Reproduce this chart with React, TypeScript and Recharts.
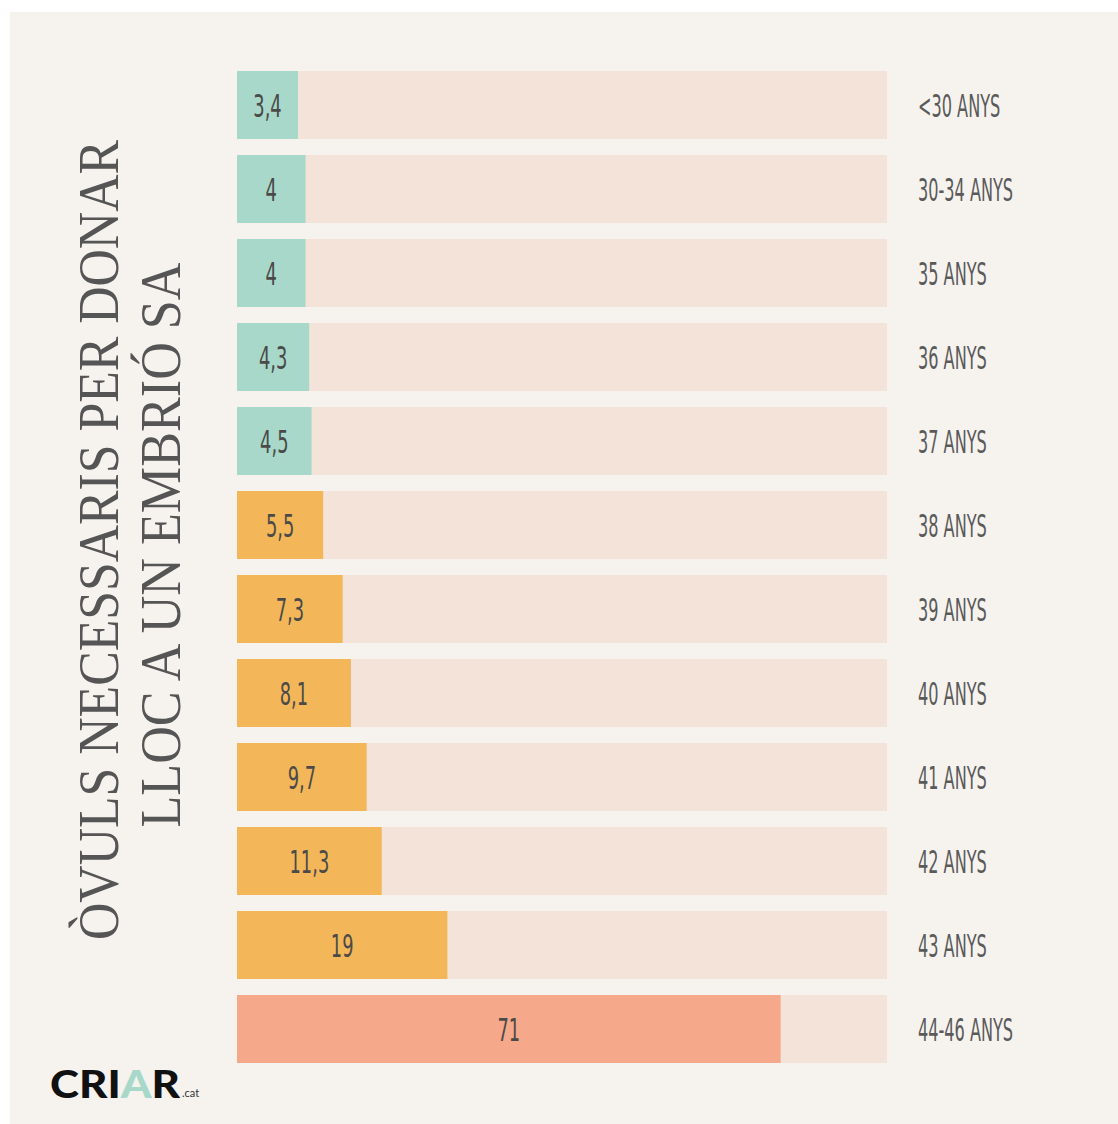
import React from "react";
import { Bar, BarChart, Cell, LabelList, XAxis, YAxis } from "recharts";

const ageLabels = [
  "<30 ANYS",
  "30-34 ANYS",
  "35 ANYS",
  "36 ANYS",
  "37 ANYS",
  "38 ANYS",
  "39 ANYS",
  "40 ANYS",
  "41 ANYS",
  "42 ANYS",
  "43 ANYS",
  "44-46 ANYS"
];
const ovules = [3.4, 4, 4, 4.3, 4.5, 5.5, 7.3, 8.1, 9.7, 11.3, 19, 71];
const valueLabels = ["3,4", "4", "4", "4,3", "4,5", "5,5", "7,3", "8,1", "9,7", "11,3", "19", "71"];
const groups = ["low", "low", "low", "low", "low", "mid", "mid", "mid", "mid", "mid", "mid", "high"];

const COLORS: Record<string, string> = {
  low: "#a8d8c9",
  mid: "#f3b75a",
  high: "#f6a88a"
};
const TRACK = "#f3e3d9";
const PANEL = "#f6f3ef";
const HAND = "'Liberation Sans Narrow', 'DejaVu Sans Condensed', sans-serif";

const data = ageLabels.map((age, i) => ({
  age,
  ovules: ovules[i],
  label: valueLabels[i],
  group: groups[i]
}));

// infographic bars are not linear: a power scale fits them
function powScale(k: number): any {
  let dom = [0, 1];
  let rng = [0, 1];
  const p = (v: number) => Math.pow(Math.max(v, 0), k);
  const s: any = (v: number) => {
    const t = (p(v) - p(dom[0])) / (p(dom[1]) - p(dom[0]));
    return rng[0] + t * (rng[1] - rng[0]);
  };
  s.domain = (d?: number[]) => {
    if (d === undefined) return dom.slice();
    dom = d.map(Number);
    return s;
  };
  s.range = (r?: number[]) => {
    if (r === undefined) return rng.slice();
    rng = r.map(Number);
    return s;
  };
  s.invert = (y: number) => {
    const t = (y - rng[0]) / (rng[1] - rng[0]);
    return Math.pow(p(dom[0]) + t * (p(dom[1]) - p(dom[0])), 1 / k);
  };
  s.ticks = (n = 5) => {
    const step = (dom[1] - dom[0]) / n;
    return Array.from({ length: n + 1 }, (_, i) => dom[0] + i * step);
  };
  s.tickFormat = () => (v: number) => String(v);
  s.copy = () => powScale(k).domain(dom).range(rng);
  return s;
}

function AgeTick(props: any) {
  const { x, y, payload } = props;
  return (
    <g transform={`translate(${x},${y}) scale(0.56,1)`}>
      <text x={0} y={0} dy="0.36em" textAnchor="start" fontFamily={HAND} fontSize={32} fill="#5a5a5a">
        {payload.value}
      </text>
    </g>
  );
}

function ValueLabel(props: any) {
  const { x, y, width, height, value } = props;
  const cx = x + width / 2;
  const cy = y + height / 2;
  return (
    <g transform={`translate(${cx},${cy}) scale(0.62,1)`}>
      <text x={0} y={0} dy="0.36em" textAnchor="middle" fontFamily={HAND} fontSize={32} fill="#4a4a48">
        {value}
      </text>
    </g>
  );
}

export default function App() {
  return (
    <div style={{ position: "absolute", left: 0, top: 0, width: 1118, height: 1124, background: "#ffffff" }}>
      <div style={{ position: "absolute", left: 10, top: 12, right: 0, bottom: 0, background: PANEL }} />
      <div style={{ position: "absolute", left: 0, top: 0 }}>
        <BarChart
          layout="vertical"
          width={1118}
          height={1124}
          data={data}
          margin={{ top: 63, right: 31, bottom: 53, left: 237 }}
        >
          <XAxis type="number" hide domain={[0, 91]} scale={powScale(0.72)} />
          <YAxis
            type="category"
            dataKey="age"
            orientation="right"
            width={200}
            axisLine={false}
            tickLine={false}
            tickSize={0}
            tickMargin={31}
            tick={<AgeTick />}
            interval={0}
          />
          <Bar dataKey="ovules" barSize={68} background={{ fill: TRACK }} isAnimationActive={false}>
            {data.map((d) => (
              <Cell key={d.age} fill={COLORS[d.group]} />
            ))}
            <LabelList dataKey="label" content={<ValueLabel />} />
          </Bar>
        </BarChart>
      </div>
      <svg
        width={1118}
        height={1124}
        style={{ position: "absolute", left: 0, top: 0, pointerEvents: "none" }}
      >
        <text
          transform="translate(118,540) rotate(-90)"
          textAnchor="middle"
          fontFamily="'Liberation Serif', 'DejaVu Serif', serif"
          fontSize={58}
          fill="#555555"
          textLength={800}
          lengthAdjust="spacingAndGlyphs"
        >
          ÒVULS NECESSARIS PER DONAR
        </text>
        <text
          transform="translate(180,545) rotate(-90)"
          textAnchor="middle"
          fontFamily="'Liberation Serif', 'DejaVu Serif', serif"
          fontSize={58}
          fill="#555555"
          textLength={565}
          lengthAdjust="spacingAndGlyphs"
        >
          LLOC A UN EMBRIÓ SA
        </text>
        <text
          x={50}
          y={1098}
          fontFamily="Lato, 'DejaVu Sans', sans-serif"
          fontWeight={900}
          fontSize={38}
          textLength={130}
          lengthAdjust="spacingAndGlyphs"
        >
          <tspan fill="#111111">CRI</tspan>
          <tspan fill="#a8d8c9">A</tspan>
          <tspan fill="#111111">R</tspan>
        </text>
        <text x={182} y={1097} fontFamily="Lato, sans-serif" fontSize={11} fill="#333333">
          .cat
        </text>
      </svg>
    </div>
  );
}
